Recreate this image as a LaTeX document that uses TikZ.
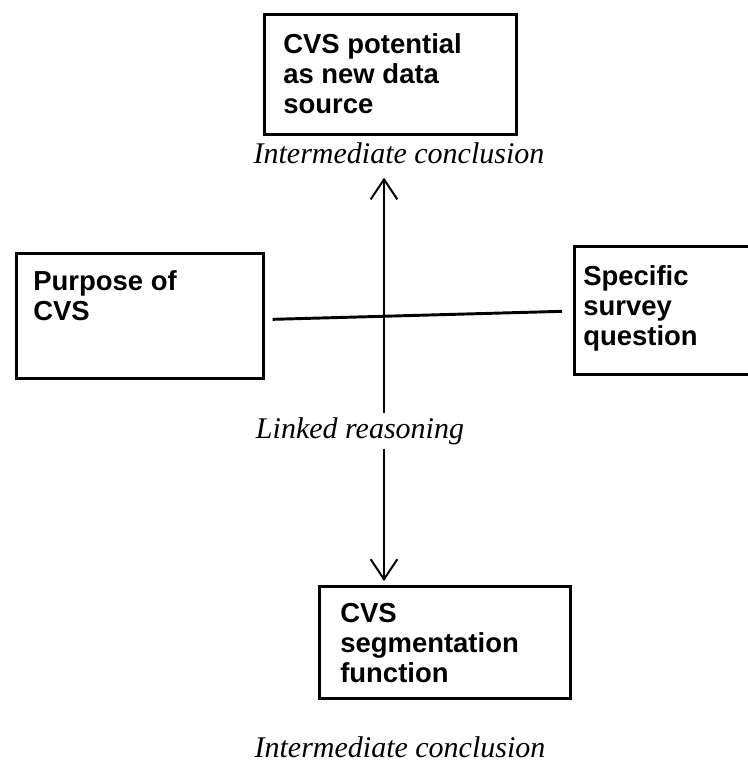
\documentclass[tikz,border=0pt]{standalone}
\usepackage{fontspec}
\setmainfont{Liberation Serif}
\setsansfont{Liberation Sans}
\usetikzlibrary{arrows.meta}
\begin{document}
\begin{tikzpicture}[x=0.75pt,y=-0.75pt,
  box/.style={draw, line width=2pt, inner sep=0pt, anchor=north west},
  boxtext/.style={anchor=north west, inner sep=0pt, align=left,
    font=\sffamily\bfseries\fontsize{20.6pt}{22.5pt}\selectfont},
  note/.style={anchor=base, font=\itshape\fontsize{22.5pt}{25pt}\selectfont, inner sep=1pt},
  link/.style={line width=1.5pt},
  barb/.style={-{Straight Barb[length=15pt,width=20pt,line width=1.5pt]}}]
  \useasboundingbox (0,0) rectangle (747,768);

  % boxes and their texts
  \node[box, minimum width=189pt, minimum height=90pt] (pot) at (263,13) {};
  \node[boxtext] (pott) at (283,33) {CVS potential\\as new data\\source};

  \node[box, minimum width=185.25pt, minimum height=93.75pt] (purpose) at (15,252) {};
  \node[boxtext] (purt) at (33,270) {Purpose of\\CVS};

  \node[box, minimum width=140.25pt, minimum height=96pt] (specific) at (573,245) {};
  \node[boxtext] (spect) at (583,265) {Specific\\survey\\question};

  \node[box, minimum width=188.25pt, minimum height=84pt] (seg) at (318,585) {};
  \node[boxtext] (segt) at (340,603) {CVS\\segmentation\\function};

  % italic labels
  \node[note] (ic1) at (399,163) {Intermediate conclusion};
  \node[note, inner sep=3pt] (lr) at (360,438) {Linked reasoning};
  \node[note] (ic2) at (400,757) {Intermediate conclusion};

  % crossing of the two lines
  \coordinate (cross) at (384,314);

  % connectors
  \draw[link, line width=2.2pt] ([shift={(8,3.5)}]purpose.east) -- ([shift={(-11,1)}]specific.west);
  \draw[link, barb, shorten >=9.5pt] (lr.north -| cross) -- (ic1.south -| cross);
  \draw[link, barb, shorten >=3pt] (lr.south -| cross) -- (seg.north -| cross);
\end{tikzpicture}
\end{document}
